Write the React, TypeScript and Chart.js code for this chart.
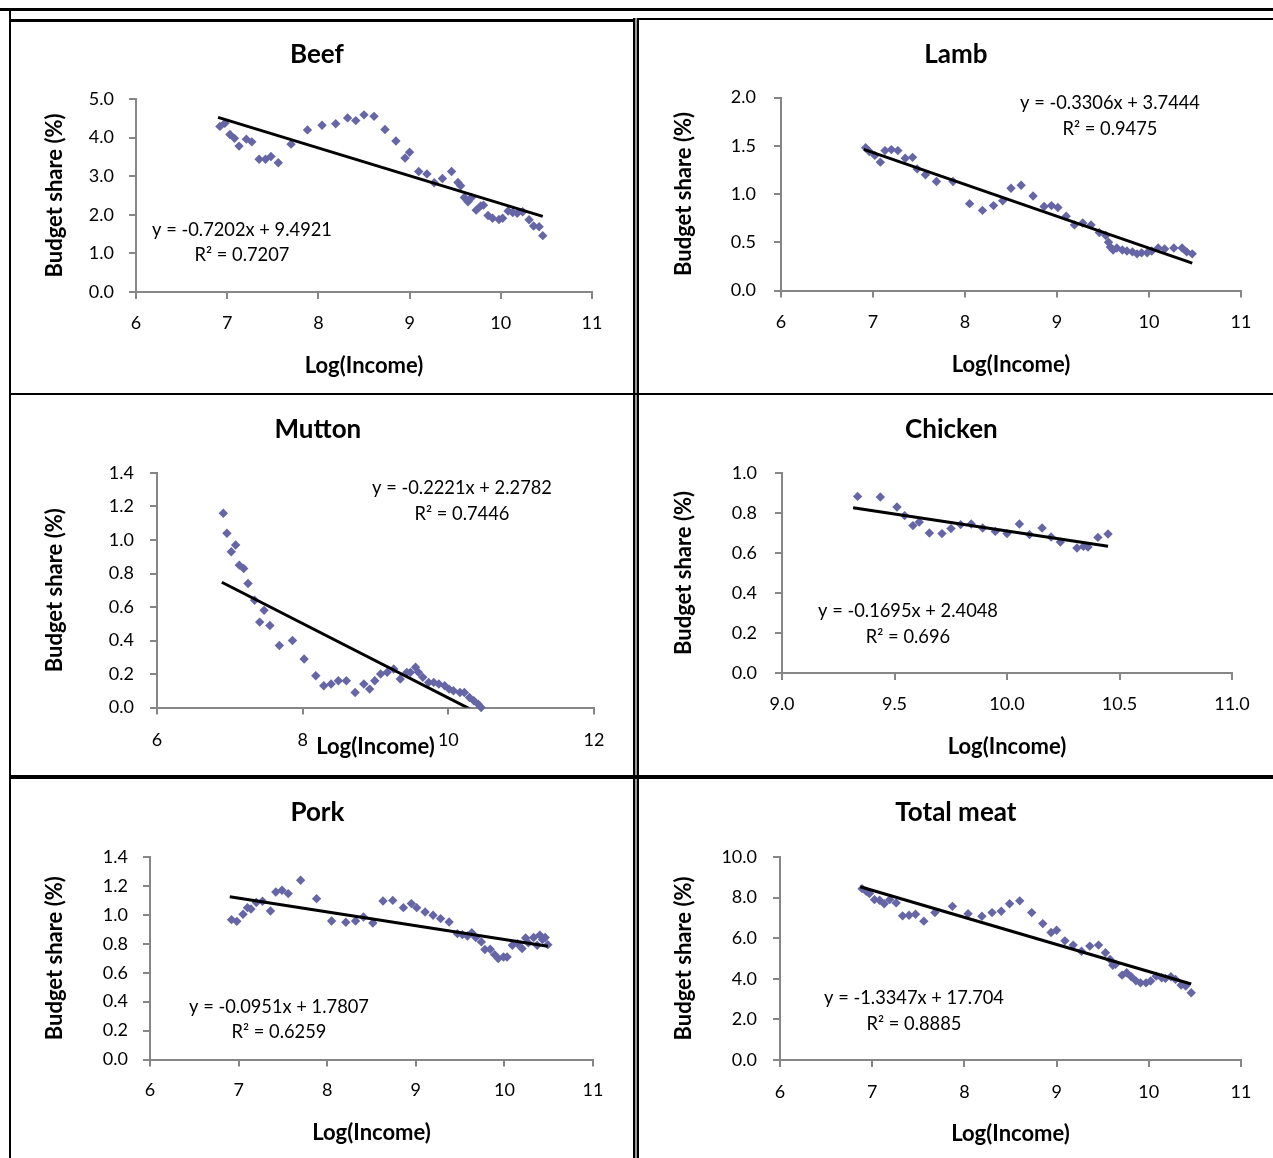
import { useEffect, useRef } from "react";
import { Chart, registerables } from "chart.js";

Chart.register(...registerables);

// ---------------- DATA ----------------
const beefX = [6.92, 6.975, 7.03, 7.08, 7.13, 7.21, 7.27, 7.35, 7.42, 7.48, 7.56, 7.7, 7.88, 8.04, 8.19, 8.32, 8.41, 8.5, 8.61, 8.73, 8.85, 8.95, 9.0, 9.1, 9.19, 9.27, 9.36, 9.46, 9.53, 9.56, 9.6, 9.64, 9.68, 9.73, 9.78, 9.81, 9.86, 9.91, 9.98, 10.02, 10.08, 10.13, 10.18, 10.24, 10.31, 10.36, 10.42, 10.46];
const beefY = [4.29, 4.37, 4.08, 3.98, 3.78, 3.96, 3.89, 3.44, 3.44, 3.51, 3.35, 3.83, 4.2, 4.32, 4.36, 4.51, 4.44, 4.59, 4.55, 4.21, 3.91, 3.47, 3.62, 3.12, 3.06, 2.83, 2.94, 3.12, 2.84, 2.75, 2.45, 2.34, 2.45, 2.12, 2.23, 2.25, 1.98, 1.91, 1.88, 1.91, 2.1, 2.06, 2.04, 2.08, 1.87, 1.71, 1.69, 1.46];

const lambX = [6.92, 6.96, 7.02, 7.08, 7.13, 7.2, 7.27, 7.35, 7.43, 7.48, 7.57, 7.69, 7.87, 8.05, 8.19, 8.31, 8.41, 8.5, 8.61, 8.74, 8.86, 8.94, 9.01, 9.1, 9.19, 9.28, 9.37, 9.46, 9.53, 9.56, 9.58, 9.61, 9.65, 9.71, 9.76, 9.82, 9.87, 9.92, 9.98, 10.03, 10.1, 10.17, 10.27, 10.36, 10.41, 10.47];
const lambY = [1.48, 1.44, 1.4, 1.33, 1.45, 1.46, 1.45, 1.37, 1.38, 1.26, 1.2, 1.13, 1.13, 0.9, 0.83, 0.88, 0.93, 1.06, 1.09, 0.98, 0.87, 0.88, 0.86, 0.77, 0.68, 0.7, 0.68, 0.6, 0.57, 0.5, 0.45, 0.42, 0.44, 0.42, 0.41, 0.4, 0.38, 0.39, 0.39, 0.41, 0.44, 0.43, 0.44, 0.44, 0.4, 0.38];

const muttonX = [6.91, 6.96, 7.02, 7.08, 7.13, 7.19, 7.25, 7.34, 7.41, 7.47, 7.55, 7.68, 7.86, 8.02, 8.18, 8.29, 8.39, 8.49, 8.6, 8.72, 8.84, 8.92, 8.99, 9.07, 9.16, 9.25, 9.34, 9.43, 9.48, 9.55, 9.59, 9.65, 9.73, 9.8, 9.87, 9.95, 10.01, 10.07, 10.16, 10.22, 10.29, 10.35, 10.41, 10.45];
const muttonY = [1.16, 1.04, 0.93, 0.97, 0.85, 0.83, 0.74, 0.64, 0.51, 0.58, 0.49, 0.37, 0.4, 0.29, 0.19, 0.13, 0.14, 0.16, 0.16, 0.09, 0.14, 0.11, 0.16, 0.2, 0.21, 0.23, 0.17, 0.21, 0.21, 0.24, 0.21, 0.18, 0.15, 0.15, 0.14, 0.13, 0.11, 0.1, 0.09, 0.09, 0.06, 0.04, 0.02, 0.0];

const chickenX = [9.336, 9.437, 9.511, 9.545, 9.582, 9.61, 9.655, 9.711, 9.751, 9.794, 9.841, 9.892, 9.948, 10.0, 10.055, 10.1, 10.156, 10.196, 10.237, 10.311, 10.34, 10.36, 10.404, 10.449];
const chickenY = [0.883, 0.88, 0.83, 0.787, 0.737, 0.755, 0.7, 0.697, 0.722, 0.742, 0.745, 0.725, 0.708, 0.697, 0.745, 0.692, 0.725, 0.68, 0.655, 0.625, 0.633, 0.63, 0.678, 0.695];

const porkX = [6.92, 6.98, 7.05, 7.1, 7.14, 7.2, 7.27, 7.36, 7.42, 7.49, 7.56, 7.7, 7.88, 8.05, 8.21, 8.32, 8.41, 8.515, 8.63, 8.74, 8.86, 8.95, 9.01, 9.105, 9.195, 9.28, 9.376, 9.47, 9.526, 9.583, 9.632, 9.677, 9.74, 9.78, 9.84, 9.89, 9.93, 9.99, 10.03, 10.09, 10.15, 10.2, 10.24, 10.27, 10.33, 10.37, 10.4, 10.43, 10.46, 10.49];
const porkY = [0.967, 0.955, 1.004, 1.05, 1.04, 1.085, 1.094, 1.027, 1.158, 1.17, 1.147, 1.239, 1.112, 0.958, 0.949, 0.958, 0.985, 0.944, 1.096, 1.1, 1.05, 1.078, 1.05, 1.02, 0.997, 0.974, 0.951, 0.87, 0.863, 0.854, 0.877, 0.843, 0.813, 0.76, 0.762, 0.725, 0.698, 0.709, 0.709, 0.79, 0.8, 0.767, 0.84, 0.806, 0.843, 0.79, 0.86, 0.829, 0.843, 0.794];

const totalX = [6.89, 6.935, 6.97, 7.025, 7.08, 7.13, 7.19, 7.26, 7.33, 7.4, 7.47, 7.56, 7.68, 7.87, 8.04, 8.19, 8.3, 8.4, 8.49, 8.6, 8.73, 8.85, 8.94, 9.0, 9.09, 9.18, 9.27, 9.36, 9.455, 9.53, 9.58, 9.61, 9.64, 9.71, 9.76, 9.81, 9.86, 9.91, 9.97, 10.02, 10.08, 10.14, 10.18, 10.24, 10.29, 10.35, 10.4, 10.46];
const totalY = [8.44, 8.31, 8.2, 7.9, 7.87, 7.7, 7.9, 7.74, 7.1, 7.13, 7.18, 6.84, 7.26, 7.57, 7.21, 7.08, 7.26, 7.33, 7.7, 7.84, 7.26, 6.72, 6.28, 6.39, 5.87, 5.66, 5.36, 5.61, 5.66, 5.28, 4.95, 4.67, 4.72, 4.18, 4.3, 4.1, 3.9, 3.8, 3.8, 3.89, 4.13, 4.05, 4.02, 4.1, 3.97, 3.69, 3.64, 3.31];

const titles = ["Beef", "Lamb", "Mutton", "Chicken", "Pork", "Total meat"];
const slopes = [-0.7202, -0.3306, -0.2221, -0.1695, -0.0951, -1.3347];
const intercepts = [9.4921, 3.7444, 2.2782, 2.4048, 1.7807, 17.704];
const equations = ["y = -0.7202x + 9.4921", "y = -0.3306x + 3.7444", "y = -0.2221x + 2.2782", "y = -0.1695x + 2.4048", "y = -0.0951x + 1.7807", "y = -1.3347x + 17.704"];
const r2Labels = ["R² = 0.7207", "R² = 0.9475", "R² = 0.7446", "R² = 0.696", "R² = 0.6259", "R² = 0.8885"];

// axis ranges: [min, max, step, decimals]
const xRanges = [[6, 11, 1, 0], [6, 11, 1, 0], [6, 12, 2, 0], [9, 11, 0.5, 1], [6, 11, 1, 0], [6, 11, 1, 0]];
const yRanges = [[0, 5, 1, 1], [0, 2, 0.5, 1], [0, 1.4, 0.2, 1], [0, 1, 0.2, 1], [0, 1.4, 0.2, 1], [0, 10, 2, 1]];

const X_TITLE = "Log(Income)";
const Y_TITLE = "Budget share (%)";

// ---------------- LAYOUT / STYLE ----------------
const FONT = "Lato, 'Open Sans', sans-serif";
const TICK_SIZE = 18;
const EQ_SIZE = 18.3;
const AXIS_TITLE_SIZE = 22;
const TITLE_SIZE = 26;
const LH = 1.2;
const TICK_LEN = 7;
const AXIS_COLOR = "#868686";
const POINT_COLOR = "#6666A6";

type Geo = {
  cell: number[]; // x, y, w, h (page)
  area: number[]; // L, T, R, B (page)
  titleY: number;
  yTitleX: number;
  xTitleY: number;
  xTickY: number;
  yTickRight: number;
  eq: number[]; // cx, y1, y2
};

const geos: Geo[] = [
  { cell: [11, 22, 622, 371], area: [136, 99, 592, 292], titleY: 55, yTitleX: 55, xTitleY: 366, xTickY: 323, yTickRight: 114, eq: [242, 230, 255] },
  { cell: [639, 20, 634, 373], area: [781, 97.5, 1241, 290.5], titleY: 55, yTitleX: 684, xTitleY: 365, xTickY: 322, yTickRight: 756, eq: [1110, 103, 129] },
  { cell: [11, 395, 622, 380], area: [157, 473, 594, 707.5], titleY: 430, yTitleX: 55, xTitleY: 747, xTickY: 740, yTickRight: 134, eq: [462, 488, 514] },
  { cell: [639, 395, 634, 380], area: [782, 473, 1232, 673], titleY: 430, yTitleX: 684, xTitleY: 747, xTickY: 704, yTickRight: 757, eq: [908, 611, 637] },
  { cell: [11, 779, 622, 379], area: [150, 857, 593, 1059.5], titleY: 813, yTitleX: 55, xTitleY: 1133, xTickY: 1090, yTickRight: 128, eq: [279, 1007, 1032] },
  { cell: [639, 779, 634, 379], area: [780, 857, 1241, 1060], titleY: 813, yTitleX: 684, xTitleY: 1134, xTickY: 1092, yTickRight: 757, eq: [914, 998, 1024] },
];

const seriesX = [beefX, lambX, muttonX, chickenX, porkX, totalX];
const seriesY = [beefY, lambY, muttonY, chickenY, porkY, totalY];

function buildConfig(i: number): any {
  const g = geos[i];
  const [cx, cy, cw, ch] = g.cell;
  const [L, T, R, B] = g.area;
  const lhA = AXIS_TITLE_SIZE * LH;
  const lhT = TITLE_SIZE * LH;
  const lhTick = TICK_SIZE * LH;
  const xs = seriesX[i];
  const ys = seriesY[i];
  const pts = xs.map((x, k) => ({ x, y: ys[k] }));
  const x0 = Math.min(...xs) - 0.02;
  const x1 = Math.max(...xs);
  const trend = [
    { x: x0, y: slopes[i] * x0 + intercepts[i] },
    { x: x1, y: slopes[i] * x1 + intercepts[i] },
  ];
  const [xMin, xMax, xStep, xDec] = xRanges[i];
  const [yMin, yMax, yStep, yDec] = yRanges[i];

  const scaleLeft = g.yTitleX - lhA / 2;
  const scaleBottom = g.xTitleY + lhA / 2;

  const eqPlugin = {
    id: "equationLabel",
    afterDatasetsDraw(chart: any) {
      const ctx = chart.ctx;
      ctx.save();
      ctx.font = `${EQ_SIZE}px ${FONT}`;
      ctx.fillStyle = "#000";
      ctx.textAlign = "center";
      ctx.textBaseline = "middle";
      ctx.fillText(equations[i], g.eq[0] - cx, g.eq[1] - cy);
      ctx.fillText(r2Labels[i], g.eq[0] - cx, g.eq[2] - cy);
      ctx.restore();
    },
  };

  const zeroPad = (s: any) => {
    s.paddingLeft = 0;
    s.paddingRight = 0;
    s.paddingTop = 0;
    s.paddingBottom = 0;
  };

  return {
    type: "scatter",
    data: {
      datasets: [
        {
          type: "line",
          data: trend,
          borderColor: "#000",
          borderWidth: 3,
          pointRadius: 0,
          fill: false,
          order: 0,
          clip: 0,
        },
        {
          type: "scatter",
          data: pts,
          pointStyle: "rectRot",
          pointRadius: 4.7,
          backgroundColor: POINT_COLOR,
          borderColor: POINT_COLOR,
          borderWidth: 0,
          order: 1,
          clip: false,
        },
      ],
    },
    plugins: [eqPlugin],
    options: {
      responsive: false,
      animation: false,
      events: [],
      layout: {
        autoPadding: false,
        padding: {
          left: scaleLeft - cx,
          right: cx + cw - R,
          top: 0,
          bottom: cy + ch - scaleBottom,
        },
      },
      plugins: {
        legend: { display: false },
        tooltip: { enabled: false },
        title: {
          display: true,
          text: titles[i],
          color: "#000",
          font: { family: FONT, size: TITLE_SIZE, weight: "bold", lineHeight: LH },
          padding: { top: g.titleY - cy - lhT / 2, bottom: T - g.titleY - lhT / 2 },
        },
      },
      scales: {
        x: {
          type: "linear",
          position: "bottom",
          min: xMin,
          max: xMax,
          afterFit: (s: any) => {
            s.height = scaleBottom - B;
            zeroPad(s);
          },
          ticks: {
            stepSize: xStep,
            autoSkip: false,
            maxRotation: 0,
            color: "#000",
            font: { family: FONT, size: TICK_SIZE, lineHeight: LH },
            padding: g.xTickY - B - TICK_LEN - lhTick / 2,
            callback: (v: any) => Number(v).toFixed(xDec),
          },
          grid: {
            drawOnChartArea: false,
            drawTicks: true,
            tickLength: TICK_LEN,
            color: AXIS_COLOR,
            lineWidth: 2,
          },
          border: { display: true, color: AXIS_COLOR, width: 2 },
          title: {
            display: true,
            text: X_TITLE,
            color: "#000",
            font: { family: FONT, size: AXIS_TITLE_SIZE, weight: "bold", lineHeight: LH },
            padding: 0,
          },
        },
        y: {
          type: "linear",
          position: "left",
          min: yMin,
          max: yMax,
          afterFit: (s: any) => {
            s.width = L - scaleLeft;
            zeroPad(s);
          },
          ticks: {
            stepSize: yStep,
            autoSkip: false,
            color: "#000",
            font: { family: FONT, size: TICK_SIZE, lineHeight: LH },
            padding: L - TICK_LEN - g.yTickRight,
            callback: (v: any) => Number(v).toFixed(yDec),
          },
          grid: {
            drawOnChartArea: false,
            drawTicks: true,
            tickLength: TICK_LEN,
            color: AXIS_COLOR,
            lineWidth: 2,
          },
          border: { display: true, color: AXIS_COLOR, width: 2 },
          title: {
            display: true,
            text: Y_TITLE,
            color: "#000",
            font: { family: FONT, size: AXIS_TITLE_SIZE, weight: "bold", lineHeight: LH },
            padding: 0,
          },
        },
      },
    },
  };
}

function Panel({ index }: { index: number }) {
  const ref = useRef<HTMLCanvasElement | null>(null);
  useEffect(() => {
    if (!ref.current) return;
    const chart = new Chart(ref.current, buildConfig(index));
    return () => chart.destroy();
  }, [index]);
  const [x, y, w, h] = geos[index].cell;
  return (
    <canvas
      ref={ref}
      width={w}
      height={h}
      style={{ position: "absolute", left: x, top: y, width: w, height: h, display: "block" }}
    />
  );
}

function Line({ l, t, w, h, bg = "#000" }: { l: number; t: number; w: number; h: number; bg?: string }) {
  return <div style={{ position: "absolute", left: l, top: t, width: w, height: h, background: bg }} />;
}

export default function App() {
  return (
    <div
      style={{
        position: "absolute",
        left: 0,
        top: 0,
        width: 1273,
        height: 1158,
        background: "#fff",
        overflow: "hidden",
      }}
    >
      {titles.map((_, i) => (
        <Panel key={i} index={i} />
      ))}
      {/* frame lines */}
      <Line l={0} t={8} w={1273} h={3} />
      <Line l={9} t={8} w={2} h={1150} />
      <Line l={9} t={19} w={627} h={3} />
      <Line l={636} t={18} w={637} h={2} />
      <Line l={633} t={18} w={6} h={1140} bg="#999" />
      <Line l={633} t={18} w={2} h={1140} />
      <Line l={637} t={18} w={2} h={1140} />
      <Line l={9} t={393} w={1264} h={2} />
      <Line l={9} t={775} w={1264} h={4} />
    </div>
  );
}
